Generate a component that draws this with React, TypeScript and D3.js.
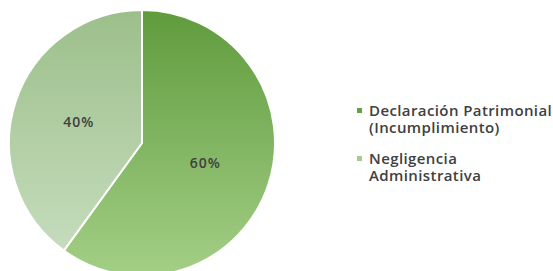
import React, { useEffect, useRef } from 'react';
import * as d3 from 'd3';

const categories = ['Declaración Patrimonial (Incumplimiento)', 'Negligencia Administrativa'];
const legendLines = [
  ['Declaración Patrimonial', '(Incumplimiento)'],
  ['Negligencia', 'Administrativa'],
];
const values = [60, 40];
const gradTop = ['#609b3d', '#9cbf8a'];
const gradBottom = ['#a3cf86', '#c9dfc2'];
const legendColors = ['#66a046', '#a6cb90'];

const App = () => {
  const svgRef = useRef<SVGSVGElement>(null);

  useEffect(() => {
    const width = 553;
    const height = 271;
    const cx = 142;
    const cy = 143;
    const radius = 133;

    d3.select(svgRef.current).selectAll('*').remove();

    const svg = d3
      .select(svgRef.current)
      .attr('width', width)
      .attr('height', height)
      .style('position', 'absolute')
      .style('left', '0px')
      .style('top', '0px');

    // vertical gradients across the whole pie
    const defs = svg.append('defs');
    categories.forEach((_, i) => {
      const g = defs
        .append('linearGradient')
        .attr('id', `grad${i}`)
        .attr('gradientUnits', 'userSpaceOnUse')
        .attr('x1', 0)
        .attr('y1', -radius)
        .attr('x2', 0)
        .attr('y2', radius);
      g.append('stop').attr('offset', '0%').attr('stop-color', gradTop[i]);
      g.append('stop').attr('offset', '100%').attr('stop-color', gradBottom[i]);
    });

    const data = categories.map((c, i) => ({ name: c, value: values[i], i }));
    const pie = d3.pie<any>().value(d => d.value).sort(null);
    const arc = d3.arc<any>().innerRadius(0).outerRadius(radius);

    const g = svg.append('g').attr('transform', `translate(${cx}, ${cy})`);
    const arcs = pie(data);

    g.selectAll('path')
      .data(arcs)
      .enter()
      .append('path')
      .attr('d', arc)
      .attr('fill', d => `url(#grad${d.data.i})`)
      .attr('stroke', '#ffffff')
      .attr('stroke-width', 2)
      .attr('stroke-linejoin', 'round');

    const total = d3.sum(values);
    g.selectAll('text')
      .data(arcs)
      .enter()
      .append('text')
      .attr('transform', d => `translate(${arc.centroid(d)})`)
      .attr('text-anchor', 'middle')
      .attr('dy', '0.35em')
      .style('font-family', '"Open Sans", sans-serif')
      .style('font-size', '14px')
      .style('font-weight', 600)
      .style('letter-spacing', '1px')
      .style('fill', '#404040')
      .text(d => `${Math.round((d.data.value / total) * 100)}%`);

    // legend
    const legend = svg
      .selectAll('.legend')
      .data(legendLines)
      .enter()
      .append('g')
      .attr('transform', (_, i) => `translate(357, ${116 + i * 48})`);

    legend
      .append('rect')
      .attr('x', 0)
      .attr('y', -8)
      .attr('width', 5)
      .attr('height', 5)
      .attr('fill', (_, i) => legendColors[i]);

    const txt = legend
      .append('text')
      .style('font-family', '"Open Sans", sans-serif')
      .style('font-size', '15px')
      .style('font-weight', 600)
      .style('letter-spacing', '0.4px')
      .style('fill', '#404040');

    txt
      .selectAll('tspan')
      .data(d => d)
      .enter()
      .append('tspan')
      .attr('x', 12)
      .attr('y', (_, j) => j * 17)
      .text(d => d);
  }, []);

  return <svg ref={svgRef}></svg>;
};

export default App;
